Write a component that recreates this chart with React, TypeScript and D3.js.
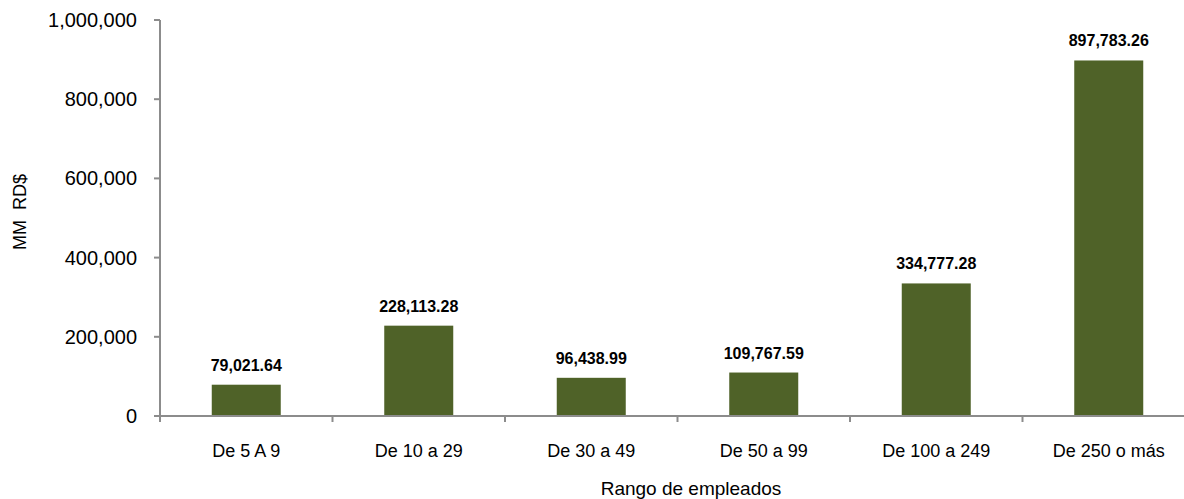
import React, { useEffect, useRef } from 'react';
import * as d3 from 'd3';

const categories = ['De 5 A 9', 'De 10 a 29', 'De 30 a 49', 'De 50 a 99', 'De 100 a 249', 'De 250 o más'];
const values = [79021.64, 228113.28, 96438.99, 109767.59, 334777.28, 897783.26];
const yTicks = [0, 200000, 400000, 600000, 800000, 1000000];

const App = () => {
    const ref = useRef<SVGSVGElement>(null);

    const width = 1184;
    const height = 499;
    const plot_x0 = 160;
    const plot_x1 = 1195;
    const plot_y0 = 20;
    const plot_y1 = 416;
    const axis_color = '#8c8c8c';
    const bar_color = '#4f6228';
    const font = "'Liberation Sans', Arial, sans-serif";

    useEffect(() => {
        const svg = d3.select(ref.current);
        svg.selectAll('*').remove();

        const xScale = d3.scaleBand<string>()
            .domain(categories)
            .range([plot_x0, plot_x1])
            .paddingInner(0.6)
            .paddingOuter(0.3);

        const yScale = d3.scaleLinear()
            .domain([0, 1000000])
            .range([plot_y1, plot_y0]);

        const step = xScale.step();
        const start = plot_x0;

        // bars
        svg.selectAll('.bar')
            .data(values)
            .enter()
            .append('rect')
            .attr('class', 'bar')
            .attr('x', (d, i) => xScale(categories[i])!)
            .attr('y', d => yScale(d))
            .attr('width', xScale.bandwidth())
            .attr('height', d => plot_y1 - yScale(d))
            .attr('fill', bar_color);

        // y axis
        const yAxis = svg.append('g');
        yAxis.append('line')
            .attr('x1', plot_x0).attr('x2', plot_x0)
            .attr('y1', plot_y0).attr('y2', plot_y1 + 6)
            .attr('stroke', axis_color).attr('stroke-width', 2);
        yAxis.selectAll('.ytick')
            .data(yTicks)
            .enter().append('line')
            .attr('x1', plot_x0 - 6).attr('x2', plot_x0)
            .attr('y1', d => yScale(d)).attr('y2', d => yScale(d))
            .attr('stroke', axis_color).attr('stroke-width', 2);
        yAxis.selectAll('.ylabel')
            .data(yTicks)
            .enter().append('text')
            .attr('x', 137)
            .attr('y', d => yScale(d))
            .attr('dy', '0.35em')
            .attr('text-anchor', 'end')
            .style('font-family', font)
            .style('font-size', '20px')
            .attr('fill', '#000')
            .text(d => d3.format(',')(d));

        // x axis
        const xAxis = svg.append('g');
        xAxis.append('line')
            .attr('x1', plot_x0 - 6).attr('x2', plot_x1)
            .attr('y1', plot_y1).attr('y2', plot_y1)
            .attr('stroke', axis_color).attr('stroke-width', 2);
        xAxis.selectAll('.xtick')
            .data(d3.range(categories.length + 1))
            .enter().append('line')
            .attr('x1', i => start + i * step).attr('x2', i => start + i * step)
            .attr('y1', plot_y1).attr('y2', plot_y1 + 6)
            .attr('stroke', axis_color).attr('stroke-width', 2);
        xAxis.selectAll('.xlabel')
            .data(categories)
            .enter().append('text')
            .attr('x', d => xScale(d)! + xScale.bandwidth() / 2)
            .attr('y', 457)
            .attr('text-anchor', 'middle')
            .style('font-family', font)
            .style('font-size', '18px')
            .attr('fill', '#000')
            .text(d => d);

        // value labels
        svg.selectAll('.vlabel')
            .data(values)
            .enter().append('text')
            .attr('x', (d, i) => xScale(categories[i])! + xScale.bandwidth() / 2)
            .attr('y', d => yScale(d) - 14)
            .attr('text-anchor', 'middle')
            .style('font-family', font)
            .style('font-size', '16px')
            .style('font-weight', 'bold')
            .attr('fill', '#000')
            .text(d => d3.format(',.2f')(d));

        // axis titles
        svg.append('text')
            .attr('transform', `translate(26, 212) rotate(-90)`)
            .attr('text-anchor', 'middle')
            .style('font-family', font)
            .style('font-size', '18px')
            .style('white-space', 'pre')
            .attr('fill', '#000')
            .text('MM  RD$');

        svg.append('text')
            .attr('x', 691)
            .attr('y', 495)
            .attr('text-anchor', 'middle')
            .style('font-family', font)
            .style('font-size', '19px')
            .attr('fill', '#000')
            .text('Rango de empleados');
    }, []);

    return (
        <svg ref={ref} width={width} height={height}
            style={{ position: 'absolute', left: 0, top: 0, background: '#fff' }} />
    );
};

export default App;
